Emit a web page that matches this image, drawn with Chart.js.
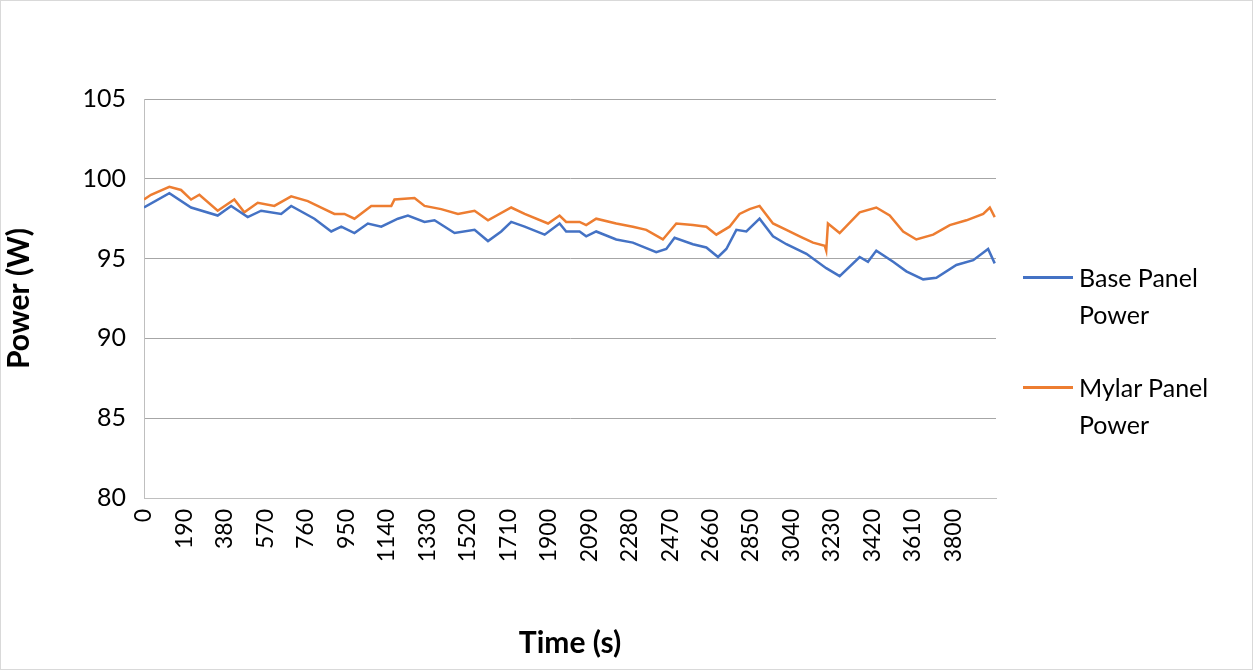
<!DOCTYPE html>
<html>
<head>
<meta charset="utf-8">
<script src="https://cdn.jsdelivr.net/npm/chart.js@4"></script>
<style>
  body { margin:0; background:#fff; font-family:Lato, "Open Sans", sans-serif; }
  #wrap { position:relative; width:1253px; height:670px; box-sizing:border-box; border:1px solid #d9d9d9; }
  canvas { position:absolute; left:0; top:0; }
  .leg { position:absolute; left:1022px; display:flex; align-items:flex-start; font-size:25px; line-height:37px; color:#000; }
  .leg span.sw { display:inline-block; width:50px; height:3px; margin-top:17px; margin-right:6px; }
</style>
</head>
<body>
<div id="wrap">
  <canvas id="c" width="1253" height="670"></canvas>
  <div class="leg" style="top:258px"><span class="sw" style="background:#4472c4"></span><div>Base Panel<br>Power</div></div>
  <div class="leg" style="top:368px"><span class="sw" style="background:#ed7d31"></span><div>Mylar Panel<br>Power</div></div>
</div>
<script>
const baseTime = [0,119,221,346,409,487,550,644,691,800,879,926,988,1051,1114,1192,1239,1317,1364,1458,1552,1615,1677,1724,1787,1881,1951,
  1982,2045,2076,2123,2217,2295,2405,2452,2491,2577,2640,2695,2734,2781,2828,2890,2953,3016,3110,3203,3266,3360,3399,3438,3517,3579,3658,3720,3814,3893,3963,3994];
const baseValues = [98.2,99.1,98.2,97.7,98.3,97.6,98.0,97.8,98.3,97.5,96.7,97.0,96.6,97.2,97.0,97.5,97.7,97.3,97.4,96.6,96.8,96.1,96.7,97.3,97.0,96.5,97.2,
  96.7,96.7,96.4,96.7,96.2,96.0,95.4,95.6,96.3,95.9,95.7,95.1,95.6,96.8,96.7,97.5,96.4,95.9,95.3,94.4,93.9,95.1,94.8,95.5,94.8,94.2,93.7,93.8,94.6,94.9,95.6,94.7];
const mylarTime = [0,33,119,174,221,260,346,424,471,534,612,691,769,832,894,941,988,1067,1161,1176,1270,1317,1395,1474,1552,1615,1724,1787,1897,1951,
  1982,2045,2076,2123,2217,2295,2358,2436,2499,2577,2640,2687,2749,2796,2843,2890,2953,3016,3078,3141,3196,3203,3211,3266,3360,3438,3501,3564,3626,3705,3783,3861,3940,3971,3994];
const mylarValues = [98.7,99.0,99.5,99.3,98.7,99.0,98.0,98.7,97.9,98.5,98.3,98.9,98.6,98.2,97.8,97.8,97.5,98.3,98.3,98.7,98.8,98.3,98.1,97.8,98.0,97.4,98.2,97.8,97.2,97.7,
  97.3,97.3,97.1,97.5,97.2,97.0,96.8,96.2,97.2,97.1,97.0,96.5,97.0,97.8,98.1,98.3,97.2,96.8,96.4,96.0,95.8,95.5,97.2,96.6,97.9,98.2,97.7,96.7,96.2,96.5,97.1,97.4,97.8,98.2,97.6];
const yTicks = [80, 85, 90, 95, 100, 105];

const pts = (t, v) => t.map((x, i) => ({ x: x, y: v[i] }));

new Chart(document.getElementById('c'), {
  type: 'line',
  data: {
    datasets: [
      { label: 'Base Panel Power', data: pts(baseTime, baseValues), borderColor: '#4472c4', borderWidth: 2.5, pointRadius: 0, tension: 0 },
      { label: 'Mylar Panel Power', data: pts(mylarTime, mylarValues), borderColor: '#ed7d31', borderWidth: 2.5, pointRadius: 0, tension: 0 }
    ]
  },
  options: {
    responsive: false,
    animation: false,
    layout: { padding: { top: 98, right: 258, left: 0, bottom: 0 } },
    plugins: { legend: { display: false }, tooltip: { enabled: false } },
    scales: {
      x: {
        type: 'linear', min: 0, max: 4000,
        afterBuildTicks: s => { s.ticks = []; for (let v = 0; v <= 3800; v += 190) s.ticks.push({ value: v }); },
        afterFit: s => { s.height = 173; },
        grid: { display: false, drawTicks: false },
        border: { color: '#bfbfbf', width: 1 },
        ticks: { color: '#000', font: { family: 'Lato', size: 23 }, maxRotation: 90, minRotation: 90, autoSkip: false, padding: 11, callback: v => String(v) },
        title: { display: true, text: 'Time (s)', color: '#000', font: { family: 'Lato', size: 30, weight: 'bold' }, padding: { top: 0, bottom: 10 } }
      },
      y: {
        min: 80, max: 105,
        afterBuildTicks: s => { s.ticks = yTicks.map(v => ({ value: v })); },
        afterFit: s => { s.width = 143; },
        grid: { color: '#a6a6a6', drawTicks: false },
        border: { color: '#bfbfbf', width: 1 },
        ticks: { color: '#000', font: { family: 'Lato', size: 25 }, padding: 18, callback: v => String(v) },
        title: { display: true, text: 'Power (W)', color: '#000', font: { family: 'Lato', size: 30, weight: 'bold' }, padding: { top: 0, bottom: 10 } }
      }
    }
  }
});
</script>
</body>
</html>
